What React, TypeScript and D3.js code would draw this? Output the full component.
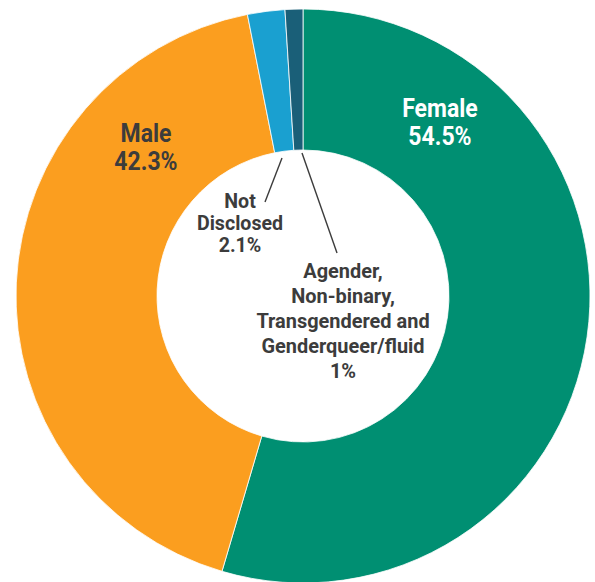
import React from "react";
import * as d3 from "d3";

const categories = [
  "Female",
  "Male",
  "Not Disclosed",
  "Agender, Non-binary, Transgendered and Genderqueer/fluid",
];
const values = [54.5, 42.3, 2.1, 1.0];
const valueLabels = ["54.5%", "42.3%", "2.1%", "1%"];
const labelLines = [
  ["Female"],
  ["Male"],
  ["Not", "Disclosed"],
  ["Agender,", "Non-binary,", "Transgendered and", "Genderqueer/fluid"],
];
const colors = ["#008f72", "#fb9e1f", "#1aa0d0", "#1a5f78"];

const W = 595;
const H = 582;
const CX = 303;
const CY = 296;
const R_OUT = 287;
const R_IN = 146;

// label layout (relative to centre): x, first baseline y, line height, font size, horizontal squeeze, colour
const labelLayout = [
  { x: 137, y: -179, lh: 28, fs: 25, sx: 0.92, fill: "#ffffff" },
  { x: -157, y: -154, lh: 28, fs: 25, sx: 0.92, fill: "#3c3c3c" },
  { x: -63, y: -88, lh: 22, fs: 20, sx: 0.98, fill: "#3c3c3c" },
  { x: 40, y: -18, lh: 25, fs: 21, sx: 0.95, fill: "#3c3c3c" },
];
// leader lines for small slices (pixel offsets from centre)
const leaders: Record<number, [number, number, number, number]> = {
  2: [-21, -138, -38, -94],
  3: [-1, -143, 34, -43],
};

export default function App() {
  const pie = d3
    .pie<number>()
    .sort(null)
    .value((d) => d);
  const arcs = pie(values);
  const arc = d3
    .arc<d3.PieArcDatum<number>>()
    .innerRadius(R_IN)
    .outerRadius(R_OUT);

  return (
    <svg
      width={W}
      height={H}
      style={{ position: "absolute", left: 0, top: 0, background: "#fff" }}
      fontFamily="Roboto, 'Noto Sans', sans-serif"
    >
      <g transform={`translate(${CX},${CY})`}>
        {arcs.map((a, i) => (
          <path
            key={categories[i]}
            d={arc(a) || ""}
            fill={colors[i]}
            stroke="#ffffff"
            strokeWidth={0.8}
          />
        ))}
        {Object.entries(leaders).map(([k, p]) => (
          <line
            key={k}
            x1={p[0]}
            y1={p[1]}
            x2={p[2]}
            y2={p[3]}
            stroke="#3c3c3c"
            strokeWidth={1.4}
          />
        ))}
        {labelLines.map((lines, i) => {
          const L = labelLayout[i];
          const all = [...lines, valueLabels[i]];
          return (
            <g key={i} transform={`translate(${L.x},0) scale(${L.sx},1)`}>
              <text
                fontSize={L.fs}
                fontWeight={700}
                fill={L.fill}
                textAnchor="middle"
              >
                {all.map((t, j) => (
                  <tspan key={j} x={0} y={L.y + j * L.lh}>
                    {t}
                  </tspan>
                ))}
              </text>
            </g>
          );
        })}
      </g>
    </svg>
  );
}
